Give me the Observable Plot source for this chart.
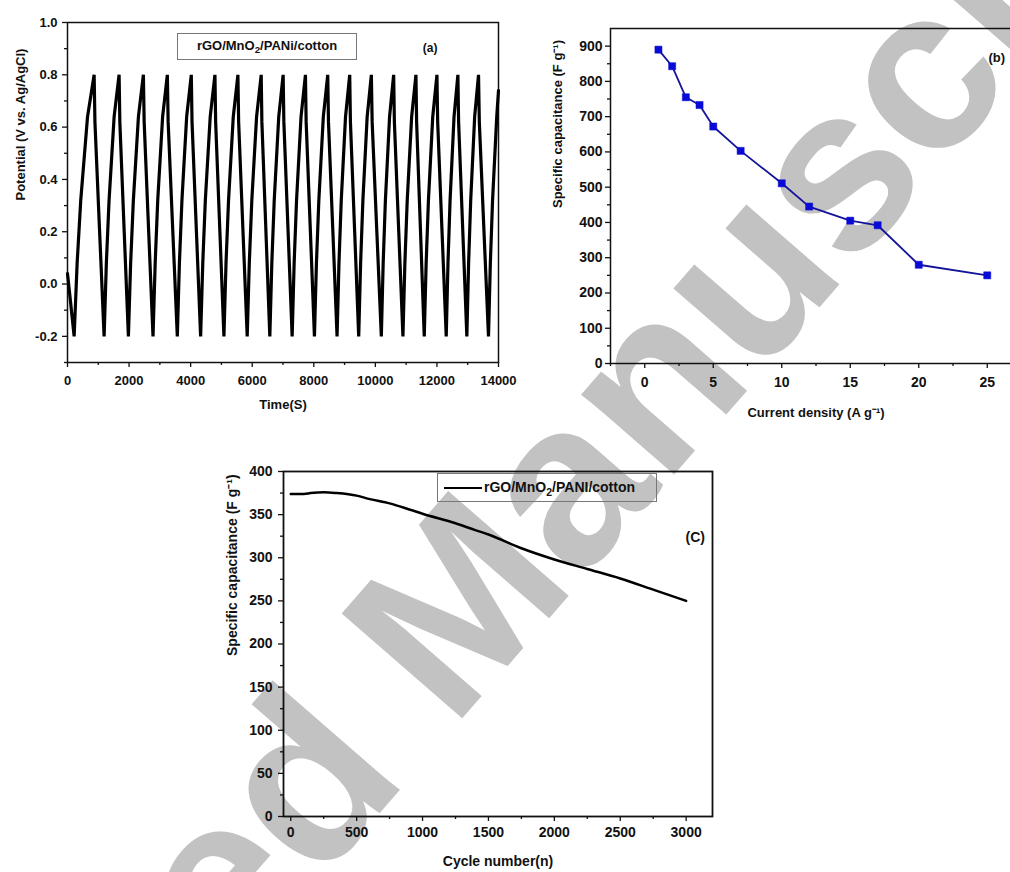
<!DOCTYPE html>
<html><head><meta charset="utf-8">
<script src="https://cdn.jsdelivr.net/npm/d3@7"></script>
<script src="https://cdn.jsdelivr.net/npm/@observablehq/plot@0.6"></script>
<style>
html,body{margin:0;padding:0;background:#fff;overflow:hidden;}
#wrap{position:relative;width:1010px;height:872px;overflow:hidden;background:#fff;font-family:"Liberation Sans",Arial,sans-serif;}
#wrap > svg{position:absolute;margin:0;}
.lg{position:absolute;box-sizing:border-box;border:1px solid #777;background:transparent;font-weight:bold;color:#111;white-space:nowrap;}
.lg sub{font-size:75%;vertical-align:-0.35em;line-height:0;}
</style></head>
<body><div id="wrap">
<svg id="wm" width="1010" height="872" style="left:0;top:0">
  <g transform="translate(452,730) rotate(-49)" fill="#c2c2c2" font-family="Liberation Sans, Arial, sans-serif" font-weight="bold" font-size="232">
    <text text-anchor="end" x="-64">Accepted</text>
    <text x="0">Manuscript</text>
  </g>
</svg>
</div>
<script>
// ---------- Panel (a): galvanostatic charge/discharge ----------
const gcdTime = [
  0, 100, 216,
  313, 430, 651, 865, 891, 1043, 1189,
  1262, 1350, 1515, 1676, 1700, 1842, 1978,
  2051, 2139, 2304, 2465, 2490, 2637, 2778,
  2848, 2931, 3090, 3243, 3269, 3421, 3567,
  3635, 3717, 3871, 4021, 4045, 4188, 4324,
  4394, 4477, 4636, 4789, 4812, 4950, 5081,
  5149, 5231, 5385, 5535, 5559, 5701, 5837,
  5905, 5987, 6142, 6292, 6314, 6446, 6572,
  6637, 6715, 6862, 7005, 7028, 7166, 7297,
  7362, 7440, 7586, 7729, 7752, 7890, 8021,
  8086, 8164, 8310, 8453, 8477, 8620, 8756,
  8818, 8892, 9031, 9167, 9190, 9328, 9459,
  9521, 9595, 9734, 9870, 9896, 10048, 10194,
  10254, 10326, 10462, 10594, 10618, 10760, 10896,
  10959, 11035, 11179, 11318, 11340, 11467, 11588,
  11650, 11724, 11864, 12000, 12024, 12166, 12302,
  12359, 12427, 12556, 12681, 12704, 12841, 12972,
  13029, 13097, 13226, 13351, 13377, 13529, 13675,
  13735, 13807, 13943, 14000
];
const gcdPotential = [
  0.04, -0.07, -0.2,
  0.08, 0.32, 0.64, 0.8, 0.62, 0.2, -0.2,
  0.08, 0.32, 0.64, 0.8, 0.62, 0.2, -0.2,
  0.08, 0.32, 0.64, 0.8, 0.62, 0.2, -0.2,
  0.08, 0.32, 0.64, 0.8, 0.62, 0.2, -0.2,
  0.08, 0.32, 0.64, 0.8, 0.62, 0.2, -0.2,
  0.08, 0.32, 0.64, 0.8, 0.62, 0.2, -0.2,
  0.08, 0.32, 0.64, 0.8, 0.62, 0.2, -0.2,
  0.08, 0.32, 0.64, 0.8, 0.62, 0.2, -0.2,
  0.08, 0.32, 0.64, 0.8, 0.62, 0.2, -0.2,
  0.08, 0.32, 0.64, 0.8, 0.62, 0.2, -0.2,
  0.08, 0.32, 0.64, 0.8, 0.62, 0.2, -0.2,
  0.08, 0.32, 0.64, 0.8, 0.62, 0.2, -0.2,
  0.08, 0.32, 0.64, 0.8, 0.62, 0.2, -0.2,
  0.08, 0.32, 0.64, 0.8, 0.62, 0.2, -0.2,
  0.08, 0.32, 0.64, 0.8, 0.62, 0.2, -0.2,
  0.08, 0.32, 0.64, 0.8, 0.62, 0.2, -0.2,
  0.08, 0.32, 0.64, 0.8, 0.62, 0.2, -0.2,
  0.08, 0.32, 0.64, 0.8, 0.62, 0.2, -0.2,
  0.08, 0.32, 0.64, 0.74
];
const aXMajor = [0, 2000, 4000, 6000, 8000, 10000, 12000, 14000];
const aXMinor = [1000, 3000, 5000, 7000, 9000, 11000, 13000];
const aYMajor = [-0.2, 0.0, 0.2, 0.4, 0.6, 0.8, 1.0];
const aYMinor = [-0.3, -0.1, 0.1, 0.3, 0.5, 0.7, 0.9];

// ---------- Panel (b): rate capability ----------
const rateCurrent = [1, 2, 3, 4, 5, 7, 10, 12, 15, 17, 20, 25];
const rateCapacitance = [890, 843, 755, 733, 672, 603, 511, 445, 405, 392, 280, 250];
const bXMajor = [0, 5, 10, 15, 20, 25];
const bXMinor = [-2.5, 2.5, 7.5, 12.5, 17.5, 22.5, 27.5];
const bYMajor = [0, 100, 200, 300, 400, 500, 600, 700, 800, 900];
const bYMinor = [50, 150, 250, 350, 450, 550, 650, 750, 850];

// ---------- Panel (c): cycling stability ----------
const cycleNumber = [0, 100, 150, 250, 350, 500, 600, 750, 900, 1000, 1250, 1400, 1500, 1750, 2000, 2250, 2500, 2750, 3000];
const cycleCapacitance = [374, 374, 375, 376, 375, 372, 368, 363, 356, 351, 340, 332, 327, 311, 298, 287, 276, 263, 250];
const cXMajor = [0, 500, 1000, 1500, 2000, 2500, 3000];
const cXMinor = [250, 750, 1250, 1750, 2250, 2750];
const cYMajor = [0, 50, 100, 150, 200, 250, 300, 350, 400];
const cYMinor = [25, 75, 125, 175, 225, 275, 325, 375];

const FONT = '"Liberation Sans", Arial, Helvetica, sans-serif';
const baseStyle = (size) => ({fontFamily: FONT, fontWeight: "bold", fontSize: size + "px", background: "transparent", color: "#111", overflow: "visible"});
const none = () => "";
const wrap = document.getElementById("wrap");

function place(node, left, top) {
  node.style.position = "absolute";
  node.style.left = left + "px";
  node.style.top = top + "px";
  node.style.margin = "0";
  node.style.maxWidth = "none";
  wrap.appendChild(node);
}

// Panel (a)
const gcd = gcdTime.map((t, i) => ({t, v: gcdPotential[i]}));
const plotA = Plot.plot({
  width: 520, height: 430,
  marginLeft: 67, marginRight: 22, marginTop: 22, marginBottom: 68,
  style: baseStyle(13),
  x: {domain: [0, 14000]},
  y: {domain: [-0.3, 1.0]},
  marks: [
    Plot.axisY({ticks: aYMajor, tickSize: 5, tickPadding: 5, tickFormat: d => d.toFixed(1), label: null, strokeWidth: 1.3}),
    Plot.axisY({ticks: aYMinor, tickSize: 3, tickFormat: none, label: null, strokeWidth: 1.3}),
    Plot.axisX({ticks: aXMajor, tickSize: 5, tickPadding: 8, tickFormat: d => String(d), label: null, strokeWidth: 1.3}),
    Plot.axisX({ticks: aXMinor, tickSize: 3, tickFormat: none, label: null, strokeWidth: 1.3}),
    Plot.frame({stroke: "#111", strokeWidth: 1.5}),
    Plot.line(gcd, {x: "t", y: "v", stroke: "#000", strokeWidth: 3.2, strokeLinejoin: "miter"}),
    Plot.text(["Potential (V vs. Ag/AgCl)"], {frameAnchor: "left", dx: -47, dy: 8, rotate: -90, fontSize: 13}),
    Plot.text(["Time(S)"], {frameAnchor: "bottom", dy: 46, fontSize: 13}),
    Plot.text(["(a)"], {frameAnchor: "top-right", dx: -61, dy: 21, fontSize: 12})
  ]
});
place(plotA, 0, 0);

// Panel (b)
const rate = rateCurrent.map((x, i) => ({x, y: rateCapacitance[i]}));
const plotB = Plot.plot({
  width: 510, height: 430,
  marginLeft: 90, marginRight: 9, marginTop: 28, marginBottom: 67,
  style: baseStyle(14),
  x: {domain: [-2.5, 27.5]},
  y: {domain: [0, 950]},
  marks: [
    Plot.axisY({ticks: bYMajor, tickSize: 5, tickPadding: 3, tickFormat: d => String(d), label: null, strokeWidth: 1.3}),
    Plot.axisY({ticks: bYMinor, tickSize: 3, tickFormat: none, label: null, strokeWidth: 1.3}),
    Plot.axisX({ticks: bXMajor, tickSize: 5, tickPadding: 9, tickFormat: d => String(d), label: null, strokeWidth: 1.3}),
    Plot.axisX({ticks: bXMinor, tickSize: 3, tickFormat: none, label: null, strokeWidth: 1.3}),
    Plot.frame({stroke: "#111", strokeWidth: 1.5}),
    Plot.line(rate, {x: "x", y: "y", stroke: "#14149a", strokeWidth: 1.8}),
    Plot.dot(rate, {x: "x", y: "y", symbol: "square", r: 4, fill: "#0a0ad6", stroke: "#0a0ad6", strokeWidth: 0.5}),
    Plot.text(["Specific capacitance (F g\u207B\u00B9)"], {frameAnchor: "left", dx: -53, dy: 12, rotate: -90, fontSize: 13}),
    Plot.text(["Current density (A g\u207B\u00B9)"], {frameAnchor: "bottom", dy: 53, fontSize: 13}),
    Plot.text(["(b)"], {frameAnchor: "top-left", dx: 378, dy: 24, fontSize: 13})
  ]
});
place(plotB, 520, 0);

// Panel (c)
const cyc = cycleNumber.map((x, i) => ({x, y: cycleCapacitance[i]}));
const plotC = Plot.plot({
  width: 540, height: 432,
  marginLeft: 83, marginRight: 28, marginTop: 31, marginBottom: 56,
  style: baseStyle(14),
  x: {domain: [-55, 3200]},
  y: {domain: [0, 400]},
  marks: [
    Plot.axisY({ticks: cYMajor, tickSize: 5, tickPadding: 6, tickFormat: d => String(d), label: null, strokeWidth: 1.3}),
    Plot.axisY({ticks: cYMinor, tickSize: 3, tickFormat: none, label: null, strokeWidth: 1.3}),
    Plot.axisX({ticks: cXMajor, tickSize: 5, tickPadding: 6, tickFormat: d => String(d), label: null, strokeWidth: 1.3}),
    Plot.axisX({ticks: cXMinor, tickSize: 3, tickFormat: none, label: null, strokeWidth: 1.3}),
    Plot.frame({stroke: "#111", strokeWidth: 1.8}),
    Plot.line(cyc, {x: "x", y: "y", stroke: "#000", strokeWidth: 2.5, curve: "monotone-x"}),
    Plot.text(["Specific capacitance (F g\u207B\u00B9)"], {frameAnchor: "left", dx: -51, dy: 12, rotate: -90, fontSize: 14}),
    Plot.text(["Cycle number(n)"], {frameAnchor: "bottom", dy: 49, fontSize: 14}),
    Plot.text(["(C)"], {frameAnchor: "top-left", dx: 402, dy: 61, fontSize: 14})
  ]
});
place(plotC, 200, 440);

// Legends
const lgA = document.createElement("div");
lgA.className = "lg";
Object.assign(lgA.style, {left: "177px", top: "33px", width: "180px", height: "27px", fontSize: "13px", lineHeight: "24px", textAlign: "center"});
lgA.innerHTML = "rGO/MnO<sub>2</sub>/PANi/cotton";
wrap.appendChild(lgA);

const lgC = document.createElement("div");
lgC.className = "lg";
Object.assign(lgC.style, {left: "437px", top: "473px", width: "220px", height: "29px", fontSize: "14px", lineHeight: "26px", paddingLeft: "6px"});
lgC.innerHTML = '<span style="display:inline-block;width:38px;height:0;border-top:2.5px solid #000;vertical-align:middle;margin-right:2px"></span>rGO/MnO<sub>2</sub>/PANI/cotton';
wrap.appendChild(lgC);
</script>
</body></html>
